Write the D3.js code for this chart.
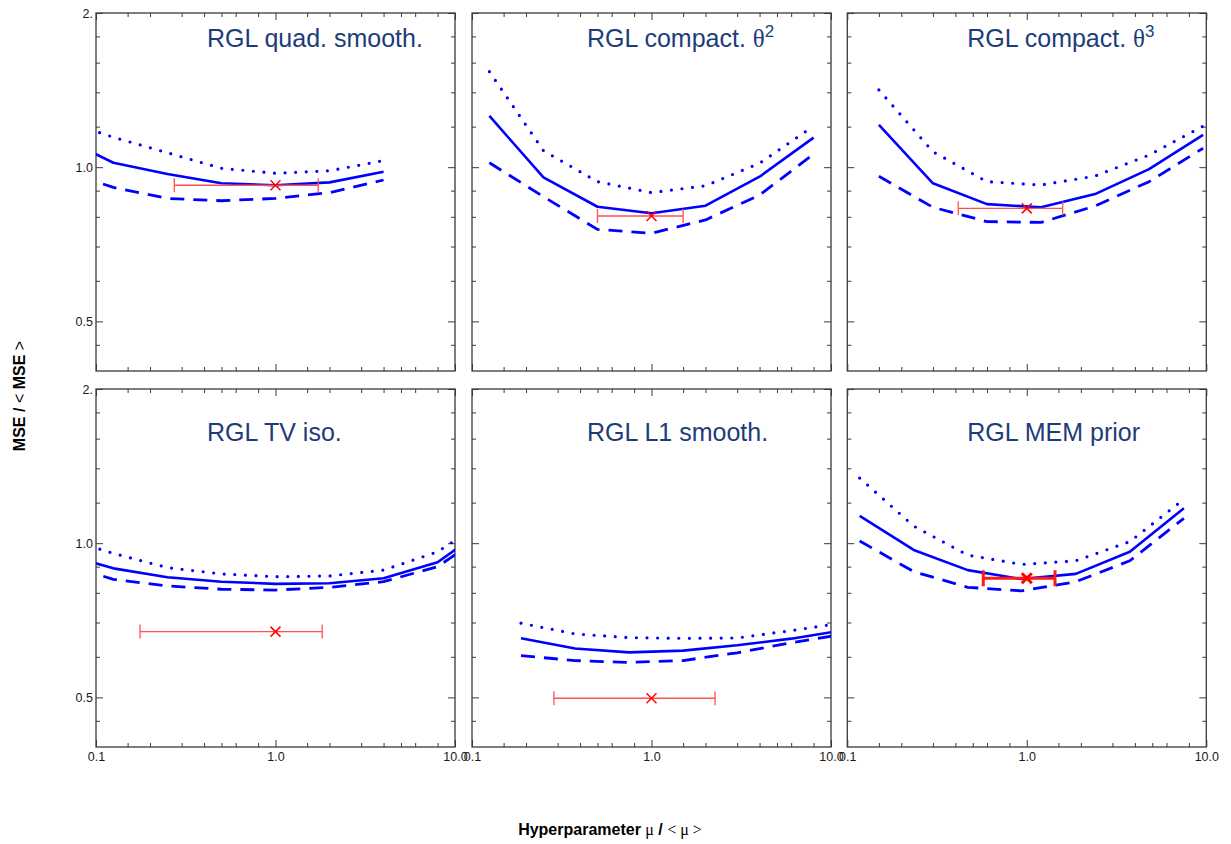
<!DOCTYPE html>
<html><head><meta charset="utf-8">
<script src="https://cdn.jsdelivr.net/npm/d3@7"></script>
<style>body{margin:0;background:#fff;} svg{display:block;}</style>
</head><body>
<svg id="chart" width="1231" height="844"></svg>
<script>
// ---------------- data ----------------
const panelTitles = ["RGL quad. smooth.", "RGL compact. ", "RGL compact. ", "RGL TV iso.", "RGL L1 smooth.", "RGL MEM prior"];
const titleSymbols = ["", "θ", "θ", "", "", ""];
const titleSuperscripts = ["", "2", "3", "", "", ""];

const quadX      = [0.0625, 0.125, 0.25, 0.5, 1, 2, 4];
const quadSolid  = [1.15, 1.02, 0.97, 0.93, 0.922, 0.934, 0.98];
const quadDotted = [1.24, 1.144, 1.067, 0.995, 0.973, 0.984, 1.03];
const quadDashed = [0.99, 0.913, 0.869, 0.86, 0.869, 0.892, 0.944];
const quadBest   = [1.0, 0.922];
const quadRange  = [0.273, 1.73];

const comp2X      = [0.125, 0.25, 0.5, 1, 2, 4, 8];
const comp2Solid  = [1.259, 0.955, 0.837, 0.813, 0.841, 0.958, 1.142];
const comp2Dotted = [1.536, 1.077, 0.937, 0.892, 0.920, 1.018, 1.203];
const comp2Dashed = [1.02, 0.876, 0.756, 0.743, 0.789, 0.882, 1.061];
const comp2Best   = [1.0, 0.803];
const comp2Range  = [0.5, 1.5];

const comp3X      = [0.15, 0.3, 0.6, 1.2, 2.4, 4.8, 9.6];
const comp3Solid  = [1.209, 0.93, 0.847, 0.835, 0.886, 0.991, 1.156];
const comp3Dotted = [1.415, 1.072, 0.937, 0.923, 0.961, 1.056, 1.203];
const comp3Dashed = [0.96, 0.835, 0.783, 0.78, 0.84, 0.937, 1.089];
const comp3Best   = [1.0, 0.831];
const comp3Range  = [0.415, 1.585];

const tvX      = [0.0625, 0.125, 0.25, 0.5, 1, 2, 4, 8, 16];
const tvSolid  = [0.956, 0.893, 0.858, 0.841, 0.833, 0.835, 0.854, 0.918, 1.09];
const tvDotted = [1.03, 0.955, 0.896, 0.871, 0.86, 0.863, 0.886, 0.962, 1.13];
const tvDashed = [0.916, 0.85, 0.825, 0.813, 0.81, 0.82, 0.841, 0.9, 1.06];
const tvBest   = [1.0, 0.672];
const tvRange  = [0.176, 1.82];

const l1X      = [0.1875, 0.375, 0.75, 1.5, 3, 6, 12];
const l1Solid  = [0.652, 0.623, 0.612, 0.617, 0.632, 0.651, 0.677];
const l1Dotted = [0.698, 0.665, 0.654, 0.652, 0.653, 0.675, 0.70];
const l1Dashed = [0.603, 0.59, 0.585, 0.59, 0.611, 0.639, 0.665];
const l1Best   = [1.0, 0.498];
const l1Range  = [0.286, 2.26];

const memX      = [0.1171875, 0.234375, 0.46875, 0.9375, 1.875, 3.75, 7.5];
const memSolid  = [1.131, 0.97, 0.886, 0.851, 0.871, 0.962, 1.17];
const memDotted = [1.34, 1.08, 0.948, 0.909, 0.924, 1.007, 1.218];
const memDashed = [1.01, 0.88, 0.82, 0.807, 0.841, 0.924, 1.118];
const memBest   = [1.0, 0.854];
const memRange  = [0.572, 1.436];

const xMajorTicks = [0.1, 1, 10];
const xMajorLabels = ["0.1", "1.0", "10.0"];
const xMinorTicks = [0.15, 0.2, 0.3, 0.4, 0.5, 0.6, 0.8, 1.5, 2, 3, 4, 5, 6, 8];
const yMajorTicks = [0.5, 1, 2];
const yMajorLabels = ["0.5", "1.0", "2."];
const yMinorTicks = [0.45, 0.6, 0.7, 0.8, 0.9, 1.2, 1.4, 1.6, 1.8];
const xDomain = [0.1, 10];
const yDomain = [0.4, 2];

const panels = [
  {x: quadX,  solid: quadSolid,  dotted: quadDotted,  dashed: quadDashed,  best: quadBest,  range: quadRange},
  {x: comp2X, solid: comp2Solid, dotted: comp2Dotted, dashed: comp2Dashed, best: comp2Best, range: comp2Range},
  {x: comp3X, solid: comp3Solid, dotted: comp3Dotted, dashed: comp3Dashed, best: comp3Best, range: comp3Range},
  {x: tvX,    solid: tvSolid,    dotted: tvDotted,    dashed: tvDashed,    best: tvBest,    range: tvRange},
  {x: l1X,    solid: l1Solid,    dotted: l1Dotted,    dashed: l1Dashed,    best: l1Best,    range: l1Range},
  {x: memX,   solid: memSolid,   dotted: memDotted,   dashed: memDashed,   best: memBest,   range: memRange}
];

// ---------------- layout ----------------
const colLeft = [96, 472, 847.3];
const rowTop = [13, 389];
const PW = 359, PH = 358;
const titleOffsetX = [111, 115, 120];
const titleOffsetY = [34, 52];
const frameColor = "#3a3a3a";
const labelFont = "'Liberation Sans', Arial, sans-serif";

const svg = d3.select("#chart");
const x = d3.scaleLog().domain(xDomain).range([0, PW]);
const y = d3.scaleLog().domain(yDomain).range([PH, 0]);

const styles = {
  solid:  {dash: null, cap: "butt", w: 2.6},
  dotted: {dash: "0,10.6", cap: "round", w: 3.2},
  dashed: {dash: "14,9", cap: "butt", w: 2.8}
};

panels.forEach((p, i) => {
  const col = i % 3, row = Math.floor(i / 3);
  const g = svg.append("g").attr("transform", `translate(${colLeft[col]},${rowTop[row]})`);
  const clipId = "clip" + i;
  g.append("defs").append("clipPath").attr("id", clipId).append("rect").attr("width", PW).attr("height", PH);

  // axes (ticks inward on all four sides)
  function styleAxis(sel) {
    sel.select(".domain").remove();
    sel.selectAll(".tick line").attr("stroke", frameColor).attr("stroke-width", 1);
    sel.selectAll(".tick text").attr("fill", "#1a1a1a").style("font-family", labelFont).style("font-size", "12.5px");
  }
  const bottomMaj = d3.axisBottom(x).tickValues(xMajorTicks).tickSize(-7).tickPadding(5)
    .tickFormat((d, k) => row === 1 ? xMajorLabels[k] : "");
  const bottomMin = d3.axisBottom(x).tickValues(xMinorTicks).tickSize(-4).tickFormat("");
  const topMaj = d3.axisTop(x).tickValues(xMajorTicks).tickSize(-7).tickFormat("");
  const topMin = d3.axisTop(x).tickValues(xMinorTicks).tickSize(-4).tickFormat("");
  const leftMaj = d3.axisLeft(y).tickValues(yMajorTicks).tickSize(-7).tickPadding(3)
    .tickFormat((d, k) => col === 0 ? yMajorLabels[k] : "");
  const leftMin = d3.axisLeft(y).tickValues(yMinorTicks).tickSize(-4).tickFormat("");
  const rightMaj = d3.axisRight(y).tickValues(yMajorTicks).tickSize(-7).tickFormat("");
  const rightMin = d3.axisRight(y).tickValues(yMinorTicks).tickSize(-4).tickFormat("");

  g.append("g").attr("transform", `translate(0,${PH})`).call(bottomMaj).call(styleAxis);
  g.append("g").attr("transform", `translate(0,${PH})`).call(bottomMin).call(styleAxis);
  g.append("g").call(topMaj).call(styleAxis);
  g.append("g").call(topMin).call(styleAxis);
  g.append("g").call(leftMaj).call(styleAxis);
  g.append("g").call(leftMin).call(styleAxis);
  g.append("g").attr("transform", `translate(${PW},0)`).call(rightMaj).call(styleAxis);
  g.append("g").attr("transform", `translate(${PW},0)`).call(rightMin).call(styleAxis);

  g.append("rect").attr("width", PW).attr("height", PH).attr("fill", "none")
    .attr("stroke", frameColor).attr("stroke-width", 1.3);

  // curves
  const plot = g.append("g").attr("clip-path", `url(#${clipId})`);
  const line = d3.line().x(d => x(d[0])).y(d => y(d[1]));
  ["dotted", "dashed", "solid"].forEach(key => {
    const st = styles[key];
    plot.append("path")
      .datum(p.x.map((v, k) => [v, p[key][k]]))
      .attr("d", line)
      .attr("fill", "none")
      .attr("stroke", "#0000ff")
      .attr("stroke-width", st.w)
      .attr("stroke-linecap", st.cap)
      .attr("stroke-linejoin", "round")
      .attr("stroke-dasharray", st.dash);
  });

  // error bar and optimum marker
  const thick = i === 5;
  const by = y(p.best[1]);
  const capH = thick ? 8 : 7;
  const barColor = thick ? "#ff1a1a" : "#ff5050";
  const bw = thick ? 3 : 1.3;
  const eb = plot.append("g").attr("stroke", barColor).attr("stroke-width", bw).attr("fill", "none");
  eb.append("line").attr("x1", x(p.range[0])).attr("x2", x(p.range[1])).attr("y1", by).attr("y2", by);
  p.range.forEach(r => {
    eb.append("line").attr("x1", x(r)).attr("x2", x(r)).attr("y1", by - capH).attr("y2", by + capH);
  });
  const bx = x(p.best[0]);
  const ms = 5;
  const mk = plot.append("g").attr("stroke", "#ff0000").attr("stroke-width", thick ? 3 : 1.5);
  mk.append("line").attr("x1", bx - ms).attr("y1", by - ms).attr("x2", bx + ms).attr("y2", by + ms);
  mk.append("line").attr("x1", bx - ms).attr("y1", by + ms).attr("x2", bx + ms).attr("y2", by - ms);

  // title
  const t = g.append("text")
    .attr("x", titleOffsetX[col]).attr("y", titleOffsetY[row])
    .attr("fill", "#1e3c78")
    .style("font-family", labelFont).style("font-size", "25px");
  t.append("tspan").text(panelTitles[i]);
  if (titleSymbols[i]) {
    t.append("tspan").style("font-family", "'Liberation Serif', 'Times New Roman', serif").text(titleSymbols[i]);
    t.append("tspan").attr("dy", -10).style("font-size", "17px").text(titleSuperscripts[i]);
  }
});

// axis titles
const yt = svg.append("text")
  .attr("transform", "translate(25,396) rotate(-90)")
  .attr("text-anchor", "middle")
  .attr("fill", "#000")
  .style("font-family", labelFont).style("font-size", "16px").style("font-weight", "bold");
yt.append("tspan").text("MSE / ");
yt.append("tspan").style("font-weight", "normal").text("<");
yt.append("tspan").text(" MSE ");
yt.append("tspan").style("font-weight", "normal").text(">");

const xt = svg.append("text")
  .attr("x", 610).attr("y", 835)
  .attr("text-anchor", "middle")
  .attr("fill", "#000")
  .style("font-family", labelFont).style("font-size", "16px").style("font-weight", "bold");
xt.append("tspan").text("Hyperparameter ");
xt.append("tspan").style("font-family", "'Liberation Serif', serif").style("font-weight", "normal").text("μ");
xt.append("tspan").text(" / ");
xt.append("tspan").style("font-family", "'Liberation Serif', serif").style("font-weight", "normal").text("< μ >");
</script>
</body></html>
